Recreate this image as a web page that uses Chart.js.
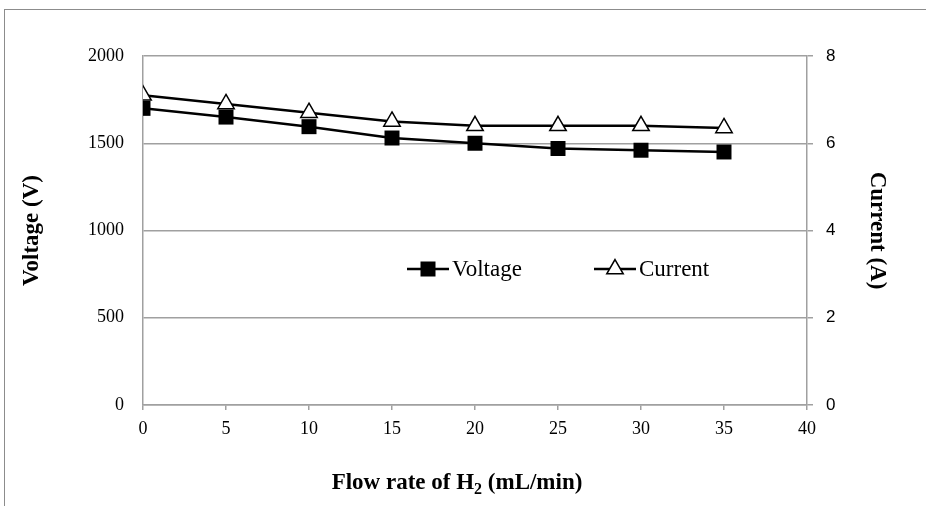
<!DOCTYPE html>
<html>
<head>
<meta charset="utf-8">
<script src="https://cdn.jsdelivr.net/npm/chart.js@4.4.1/dist/chart.umd.min.js"></script>
<style>
  html, body { margin: 0; padding: 0; background: #fff; }
  #wrap { width: 926px; height: 506px; }
</style>
</head>
<body>
<div id="wrap"><canvas id="flowChart" width="926" height="506"></canvas></div>
<script>
// values
var flowRates = [0, 5, 10, 15, 20, 25, 30, 35];
var voltage = [1700, 1650, 1595, 1530, 1500, 1470, 1460, 1450];
var current = [7.1, 6.9, 6.7, 6.5, 6.4, 6.4, 6.4, 6.35];
var seriesNames = ['Voltage', 'Current'];
var xTitle = ['Flow rate of H', '2', ' (mL/min)'];

var serif = '"Liberation Serif", "Times New Roman", serif';
var sans = '"Liberation Sans", Arial, sans-serif';
var axisGray = '#a0a0a0';

function pairs(ys) {
    return flowRates.map(function (x, i) { return {x: x, y: ys[i]}; });
}

function plain(v) { return String(v); }

// white page + outer frame of the chart object
var framePlugin = {
    id: 'frame',
    beforeDraw: function (chart) {
        var ctx = chart.ctx;
        ctx.save();
        ctx.fillStyle = '#fff';
        ctx.fillRect(0, 0, chart.width, chart.height);
        ctx.strokeStyle = '#8c8c8c';
        ctx.lineWidth = 1;
        ctx.strokeRect(4.5, 9.5, 1000, 1000);
        ctx.restore();
    }
};

// legend inside the plot: line + marker + name
var insideLegend = {
    id: 'insideLegend',
    afterDraw: function (chart) {
        var ctx = chart.ctx;
        var spots = [407, 594];
        var y = 269;
        ctx.save();
        chart.data.datasets.forEach(function (ds, i) {
            var x0 = spots[i];
            ctx.strokeStyle = '#000';
            ctx.lineWidth = 2.5;
            ctx.beginPath();
            ctx.moveTo(x0, y);
            ctx.lineTo(x0 + 42, y);
            ctx.stroke();
            var cx = x0 + 21;
            if (ds.pointStyle === 'rect') {
                ctx.fillStyle = '#000';
                ctx.fillRect(cx - 7.5, y - 7.5, 15, 15);
            } else {
                var r = ds.pointRadius;
                ctx.fillStyle = '#fff';
                ctx.lineWidth = ds.pointBorderWidth;
                ctx.beginPath();
                ctx.moveTo(cx, y - r);
                ctx.lineTo(cx + r * 0.866, y + r / 2);
                ctx.lineTo(cx - r * 0.866, y + r / 2);
                ctx.closePath();
                ctx.fill();
                ctx.stroke();
            }
            ctx.fillStyle = '#000';
            ctx.font = '23px ' + serif;
            ctx.textAlign = 'left';
            ctx.textBaseline = 'middle';
            ctx.fillText(ds.label, x0 + 45, y + 1);
        });
        ctx.restore();
    }
};

// x axis title with a real subscript
var xTitlePlugin = {
    id: 'xTitleSub',
    afterDraw: function (chart) {
        var ctx = chart.ctx;
        var big = 'bold 23px ' + serif;
        var small = 'bold 16px ' + serif;
        ctx.save();
        ctx.fillStyle = '#000';
        ctx.textBaseline = 'alphabetic';
        ctx.textAlign = 'left';
        ctx.font = big;
        var w0 = ctx.measureText(xTitle[0]).width;
        var w2 = ctx.measureText(xTitle[2]).width;
        ctx.font = small;
        var w1 = ctx.measureText(xTitle[1]).width;
        var total = w0 + w1 + w2;
        var x = 457 - total / 2;
        var base = 489;
        ctx.font = big;
        ctx.fillText(xTitle[0], x, base);
        ctx.font = small;
        ctx.fillText(xTitle[1], x + w0, base + 5);
        ctx.font = big;
        ctx.fillText(xTitle[2], x + w0 + w1, base);
        ctx.restore();
    }
};

var flowChart = new Chart('flowChart', {
    type: 'line',
    data: {
        datasets: [{
            label: seriesNames[0],
            data: pairs(voltage),
            yAxisID: 'y',
            borderColor: '#000',
            borderWidth: 2.5,
            pointStyle: 'rect',
            pointRadius: 10.6,
            pointBackgroundColor: '#000',
            pointBorderColor: '#000',
            pointBorderWidth: 0
        }, {
            label: seriesNames[1],
            data: pairs(current),
            yAxisID: 'y2',
            borderColor: '#000',
            borderWidth: 2.5,
            pointStyle: 'triangle',
            pointRadius: 9.5,
            pointBackgroundColor: '#fff',
            pointBorderColor: '#000',
            pointBorderWidth: 1.5
        }]
    },
    options: {
        responsive: false,
        animation: false,
        layout: {padding: {top: 56, left: 0, right: 0, bottom: 0}},
        plugins: {legend: {display: false}, tooltip: {enabled: false}},
        scales: {
            x: {
                type: 'linear',
                min: 0, max: 40,
                ticks: {stepSize: 5, color: '#000', padding: 8, font: {family: serif, size: 18}, maxRotation: 0, callback: plain},
                grid: {drawOnChartArea: false, drawTicks: true, tickLength: 5, color: axisGray, lineWidth: 1.5},
                border: {color: axisGray, width: 1.5},
                afterFit: function (s) { s.height = 101; }
            },
            y: {
                position: 'left',
                min: 0, max: 2000,
                ticks: {stepSize: 500, color: '#000', padding: 19, font: {family: serif, size: 18}, callback: plain},
                grid: {color: axisGray, lineWidth: 1.5, drawTicks: false},
                border: {color: axisGray, width: 1.5},
                title: {display: true, text: 'Voltage (V)', color: '#000', font: {family: serif, size: 23, weight: 'bold'}, padding: {top: 18, bottom: 0}},
                afterFit: function (s) { s.width = 143; }
            },
            y2: {
                position: 'right',
                min: 0, max: 8,
                ticks: {stepSize: 2, color: '#000', padding: 13, font: {family: sans, size: 17}, callback: plain},
                grid: {drawOnChartArea: false, drawTicks: true, tickLength: 6, color: axisGray, lineWidth: 1.5},
                border: {color: axisGray, width: 1.5},
                title: {display: true, text: 'Current (A)', color: '#000', font: {family: serif, size: 23, weight: 'bold'}, padding: {top: 35, bottom: 0}},
                afterFit: function (s) { s.width = 119; }
            }
        }
    },
    plugins: [framePlugin, insideLegend, xTitlePlugin]
});
</script>
</body>
</html>
